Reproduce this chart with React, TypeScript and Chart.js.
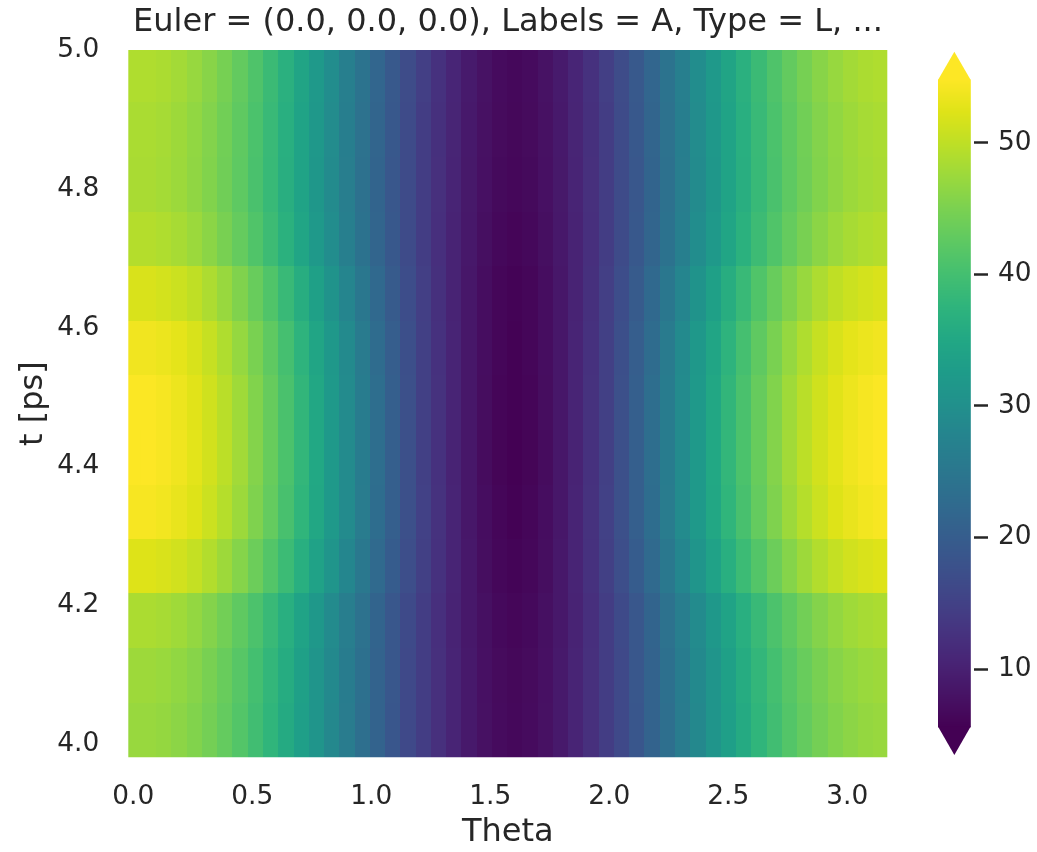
import React, { useEffect, useRef } from "react";
import { Chart, registerables } from "chart.js";

Chart.register(...registerables);

// ---------------- data ----------------
const titleText = "Euler = (0.0, 0.0, 0.0), Labels = A, Type = L, ...";
const xLabel = "Theta";
const yLabel = "t [ps]";

const thetaValues = [
  0, 0.0641, 0.1282, 0.1923, 0.2565, 0.3206, 0.3847, 0.4488, 0.5129, 0.577,
  0.6411, 0.7053, 0.7694, 0.8335, 0.8976, 0.9617, 1.0258, 1.0899, 1.1541, 1.2182,
  1.2823, 1.3464, 1.4105, 1.4746, 1.5387, 1.6029, 1.667, 1.7311, 1.7952, 1.8593,
  1.9234, 1.9875, 2.0517, 2.1158, 2.1799, 2.244, 2.3081, 2.3722, 2.4363, 2.5005,
  2.5646, 2.6287, 2.6928, 2.7569, 2.821, 2.8851, 2.9493, 3.0134, 3.0775, 3.1416,
];

const timeValues = [
  4.02, 4.099, 4.178, 4.256, 4.335, 4.413, 4.492, 4.571, 4.649, 4.728, 4.806, 4.885, 4.964,
];

const row0 = [47.2, 47.2, 46.9, 46.3, 45.5, 44.4, 43.0, 41.5, 39.7, 37.7, 35.6, 33.3, 31.0, 28.5, 26.0, 23.5, 21.1, 18.7, 16.4, 14.3, 12.3, 10.5, 9.0, 7.8, 7.0, 6.6, 7.0, 7.8, 9.0, 10.5, 12.3, 14.3, 16.4, 18.7, 21.1, 23.5, 26.0, 28.5, 31.0, 33.3, 35.6, 37.7, 39.7, 41.5, 43.0, 44.4, 45.5, 46.3, 46.9, 47.2];
const row1 = [47.6, 47.6, 47.3, 46.7, 45.9, 44.8, 43.4, 41.8, 40.0, 38.0, 35.9, 33.5, 31.2, 28.7, 26.2, 23.7, 21.2, 18.8, 16.4, 14.3, 12.3, 10.5, 9.0, 7.7, 6.9, 6.5, 6.9, 7.7, 9.0, 10.5, 12.3, 14.3, 16.4, 18.8, 21.2, 23.7, 26.2, 28.7, 31.2, 33.5, 35.9, 38.0, 40.0, 41.8, 43.4, 44.8, 45.9, 46.7, 47.3, 47.6];
const row2 = [48.6, 48.6, 48.3, 47.7, 46.8, 45.7, 44.3, 42.6, 40.8, 38.7, 36.5, 34.1, 31.7, 29.1, 26.5, 24.0, 21.4, 18.9, 16.5, 14.3, 12.2, 10.4, 8.8, 7.6, 6.7, 6.3, 6.7, 7.6, 8.8, 10.4, 12.2, 14.3, 16.5, 18.9, 21.4, 24.0, 26.5, 29.1, 31.7, 34.1, 36.5, 38.7, 40.8, 42.6, 44.3, 45.7, 46.8, 47.7, 48.3, 48.6];
const row3 = [52.3, 52.3, 51.9, 51.3, 50.4, 49.1, 47.6, 45.8, 43.7, 41.5, 39.1, 36.5, 33.8, 31.0, 28.2, 25.3, 22.5, 19.8, 17.2, 14.8, 12.5, 10.5, 8.8, 7.4, 6.4, 6.0, 6.4, 7.4, 8.8, 10.5, 12.5, 14.8, 17.2, 19.8, 22.5, 25.3, 28.2, 31.0, 33.8, 36.5, 39.1, 41.5, 43.7, 45.8, 47.6, 49.1, 50.4, 51.3, 51.9, 52.3];
const row4 = [54.3, 54.3, 53.9, 53.2, 52.3, 50.9, 49.3, 47.5, 45.3, 43.0, 40.4, 37.7, 34.9, 32.0, 29.0, 26.0, 23.1, 20.3, 17.5, 15.0, 12.6, 10.5, 8.7, 7.3, 6.3, 5.8, 6.3, 7.3, 8.7, 10.5, 12.6, 15.0, 17.5, 20.3, 23.1, 26.0, 29.0, 32.0, 34.9, 37.7, 40.4, 43.0, 45.3, 47.5, 49.3, 50.9, 52.3, 53.2, 53.9, 54.3];
const row5 = [54.7, 54.8, 54.4, 53.7, 52.7, 51.4, 49.8, 47.9, 45.7, 43.3, 40.7, 38.0, 35.1, 32.1, 29.1, 26.1, 23.2, 20.3, 17.5, 14.9, 12.5, 10.4, 8.6, 7.1, 6.1, 5.6, 6.1, 7.1, 8.6, 10.4, 12.5, 14.9, 17.5, 20.3, 23.2, 26.1, 29.1, 32.1, 35.1, 38.0, 40.7, 43.3, 45.7, 47.9, 49.8, 51.4, 52.7, 53.7, 54.4, 54.8];
const row6 = [54.6, 54.6, 54.2, 53.5, 52.5, 51.2, 49.6, 47.7, 45.5, 43.2, 40.6, 37.9, 35.0, 32.1, 29.1, 26.1, 23.2, 20.3, 17.5, 14.9, 12.6, 10.5, 8.6, 7.2, 6.2, 5.7, 6.2, 7.2, 8.6, 10.5, 12.6, 14.9, 17.5, 20.3, 23.2, 26.1, 29.1, 32.1, 35.0, 37.9, 40.6, 43.2, 45.5, 47.7, 49.6, 51.2, 52.5, 53.5, 54.2, 54.6];
const row7 = [53.8, 53.8, 53.4, 52.8, 51.8, 50.5, 48.9, 47.0, 44.9, 42.6, 40.1, 37.4, 34.6, 31.7, 28.8, 25.8, 22.9, 20.1, 17.4, 14.9, 12.5, 10.5, 8.7, 7.3, 6.3, 5.8, 6.3, 7.3, 8.7, 10.5, 12.5, 14.9, 17.4, 20.1, 22.9, 25.8, 28.8, 31.7, 34.6, 37.4, 40.1, 42.6, 44.9, 47.0, 48.9, 50.5, 51.8, 52.8, 53.4, 53.8];
const row8 = [51.9, 51.9, 51.5, 50.9, 50.0, 48.7, 47.2, 45.4, 43.4, 41.2, 38.7, 36.2, 33.5, 30.7, 27.9, 25.1, 22.3, 19.6, 17.0, 14.6, 12.4, 10.4, 8.7, 7.3, 6.3, 5.9, 6.3, 7.3, 8.7, 10.4, 12.4, 14.6, 17.0, 19.6, 22.3, 25.1, 27.9, 30.7, 33.5, 36.2, 38.7, 41.2, 43.4, 45.4, 47.2, 48.7, 50.0, 50.9, 51.5, 51.9];
const row9 = [49.2, 49.2, 48.9, 48.3, 47.4, 46.2, 44.8, 43.1, 41.2, 39.2, 36.9, 34.5, 32.0, 29.4, 26.8, 24.1, 21.5, 19.0, 16.6, 14.3, 12.2, 10.4, 8.8, 7.5, 6.6, 6.2, 6.6, 7.5, 8.8, 10.4, 12.2, 14.3, 16.6, 19.0, 21.5, 24.1, 26.8, 29.4, 32.0, 34.5, 36.9, 39.2, 41.2, 43.1, 44.8, 46.2, 47.4, 48.3, 48.9, 49.2];
const row10 = [48.4, 48.4, 48.1, 47.5, 46.6, 45.5, 44.1, 42.5, 40.6, 38.6, 36.4, 34.0, 31.6, 29.1, 26.5, 23.9, 21.4, 18.9, 16.6, 14.3, 12.3, 10.5, 8.9, 7.7, 6.8, 6.4, 6.8, 7.7, 8.9, 10.5, 12.3, 14.3, 16.6, 18.9, 21.4, 23.9, 26.5, 29.1, 31.6, 34.0, 36.4, 38.6, 40.6, 42.5, 44.1, 45.5, 46.6, 47.5, 48.1, 48.4];
const row11 = [48.5, 48.5, 48.2, 47.6, 46.7, 45.6, 44.2, 42.6, 40.7, 38.7, 36.5, 34.1, 31.7, 29.2, 26.6, 24.0, 21.5, 19.0, 16.7, 14.4, 12.4, 10.6, 9.0, 7.8, 6.9, 6.5, 6.9, 7.8, 9.0, 10.6, 12.4, 14.4, 16.7, 19.0, 21.5, 24.0, 26.6, 29.2, 31.7, 34.1, 36.5, 38.7, 40.7, 42.6, 44.2, 45.6, 46.7, 47.6, 48.2, 48.5];
const row12 = [48.9, 48.9, 48.6, 48.0, 47.1, 46.0, 44.6, 42.9, 41.1, 39.0, 36.8, 34.4, 32.0, 29.4, 26.8, 24.3, 21.7, 19.2, 16.8, 14.6, 12.5, 10.7, 9.1, 7.9, 7.0, 6.6, 7.0, 7.9, 9.1, 10.7, 12.5, 14.6, 16.8, 19.2, 21.7, 24.3, 26.8, 29.4, 32.0, 34.4, 36.8, 39.0, 41.1, 42.9, 44.6, 46.0, 47.1, 48.0, 48.6, 48.9];

const intensityRows = [row0, row1, row2, row3, row4, row5, row6, row7, row8, row9, row10, row11, row12];

const xTickValues = [0, 0.5, 1.0, 1.5, 2.0, 2.5, 3.0];
const yTickValues = [4.0, 4.2, 4.4, 4.6, 4.8, 5.0];
const colorbarTickValues = [10, 20, 30, 40, 50];
const colorMin = 5.6;
const colorMax = 54.8;

// ---------------- styling ----------------
const FONT = "'DejaVu Sans', sans-serif";
const TEXT = "#262626";

const VIRIDIS = [
  "#440154", "#471365", "#482475", "#463480", "#414487", "#3b528b", "#355f8d",
  "#2f6c8e", "#2a788e", "#25848e", "#21918c", "#1e9c89", "#22a884", "#2fb47c",
  "#44bf70", "#5ec962", "#7ad151", "#9bd93c", "#bddf26", "#dfe318", "#fde725",
];
const VIRIDIS_RGB = VIRIDIS.map((h) => [
  parseInt(h.slice(1, 3), 16),
  parseInt(h.slice(3, 5), 16),
  parseInt(h.slice(5, 7), 16),
]);

function viridis(t: number): string {
  const c = Math.max(0, Math.min(1, t));
  const p = c * (VIRIDIS_RGB.length - 1);
  const i = Math.min(VIRIDIS_RGB.length - 2, Math.floor(p));
  const f = p - i;
  const a = VIRIDIS_RGB[i];
  const b = VIRIDIS_RGB[i + 1];
  const r = Math.round(a[0] + (b[0] - a[0]) * f);
  const g = Math.round(a[1] + (b[1] - a[1]) * f);
  const bl = Math.round(a[2] + (b[2] - a[2]) * f);
  return `rgb(${r},${g},${bl})`;
}

function cellEdges(centers: number[]): number[] {
  const n = centers.length;
  const e: number[] = [centers[0] - (centers[1] - centers[0]) / 2];
  for (let i = 1; i < n; i++) e.push((centers[i - 1] + centers[i]) / 2);
  e.push(centers[n - 1] + (centers[n - 1] - centers[n - 2]) / 2);
  return e;
}

const heatmapPlugin = {
  id: "heatmapCells",
  beforeDatasetsDraw(chart: any) {
    const { ctx, chartArea, scales } = chart;
    const xs = scales.x;
    const ys = scales.y;
    const xe = cellEdges(thetaValues);
    const ye = cellEdges(timeValues);
    ctx.save();
    ctx.beginPath();
    ctx.rect(chartArea.left, chartArea.top, chartArea.right - chartArea.left, chartArea.bottom - chartArea.top);
    ctx.clip();
    for (let r = 0; r < intensityRows.length; r++) {
      const yTop = Math.round(ys.getPixelForValue(ye[r + 1]));
      const yBot = Math.round(ys.getPixelForValue(ye[r]));
      const row = intensityRows[r];
      for (let c = 0; c < row.length; c++) {
        const xl = Math.round(xs.getPixelForValue(xe[c]));
        const xr = Math.round(xs.getPixelForValue(xe[c + 1]));
        ctx.fillStyle = viridis((row[c] - colorMin) / (colorMax - colorMin));
        ctx.fillRect(xl, yTop, xr - xl, yBot - yTop);
      }
    }
    ctx.restore();
  },
};

const colorbarPlugin = {
  id: "colorbarBody",
  beforeDatasetsDraw(chart: any) {
    const { ctx, chartArea, scales } = chart;
    const ys = scales.y;
    const x0 = chartArea.left;
    const x1 = chartArea.right - 3.3;
    const yTop = ys.getPixelForValue(colorMax);
    const yBot = ys.getPixelForValue(colorMin);
    ctx.save();
    for (let py = Math.floor(yTop); py < Math.ceil(yBot); py++) {
      const v = ys.getValueForPixel(py + 0.5);
      ctx.fillStyle = viridis((v - colorMin) / (colorMax - colorMin));
      const a = Math.max(py, yTop);
      const b = Math.min(py + 1, yBot);
      ctx.fillRect(x0, a, x1 - x0, b - a + 0.5);
    }
    ctx.fillStyle = viridis(1);
    ctx.beginPath();
    ctx.moveTo(x0, yTop + 0.5);
    ctx.lineTo(x1, yTop + 0.5);
    ctx.lineTo((x0 + x1) / 2, chartArea.top);
    ctx.closePath();
    ctx.fill();
    ctx.fillStyle = viridis(0);
    ctx.beginPath();
    ctx.moveTo(x0, yBot - 0.5);
    ctx.lineTo(x1, yBot - 0.5);
    ctx.lineTo((x0 + x1) / 2, chartArea.bottom);
    ctx.closePath();
    ctx.fill();
    ctx.restore();
  },
};

export default function App() {
  const mainRef = useRef<HTMLCanvasElement>(null);
  const cbRef = useRef<HTMLCanvasElement>(null);

  useEffect(() => {
    const points: { x: number; y: number }[] = [];
    timeValues.forEach((t) => thetaValues.forEach((th) => points.push({ x: th, y: t })));

    const main = new Chart(mainRef.current as HTMLCanvasElement, {
      type: "scatter",
      data: { datasets: [{ data: points, pointRadius: 0, pointHoverRadius: 0 }] },
      options: {
        animation: false,
        responsive: false,
        maintainAspectRatio: false,
        events: [],
        layout: { padding: { left: 0, right: 21, top: 0, bottom: 0 } },
        plugins: {
          legend: { display: false },
          tooltip: { enabled: false },
          title: {
            display: true,
            text: titleText,
            color: TEXT,
            font: { family: FONT, size: 32, weight: "normal" },
            padding: { top: 3.3, bottom: 8.3 },
          },
        },
        scales: {
          x: {
            type: "linear",
            position: "bottom",
            min: -0.021,
            max: 3.168,
            grid: { display: false, drawTicks: false },
            border: { display: false },
            ticks: {
              color: TEXT,
              font: { family: FONT, size: 26.4 },
              padding: 24,
              maxRotation: 0,
              autoSkip: false,
              callback: (v: any) => Number(v).toFixed(1),
            },
            afterBuildTicks: (s: any) => {
              s.ticks = xTickValues.map((v) => ({ value: v }));
            },
            afterFit: (s: any) => {
              s.height = 94.7;
            },
            title: {
              display: true,
              text: xLabel,
              color: TEXT,
              font: { family: FONT, size: 32 },
              padding: { top: 0, bottom: 0 },
            },
          },
          y: {
            type: "linear",
            position: "left",
            min: 3.981,
            max: 5.0,
            grid: { display: false, drawTicks: false },
            border: { display: false },
            ticks: {
              color: TEXT,
              font: { family: FONT, size: 26.4 },
              padding: 29,
              autoSkip: false,
              callback: (v: any) => Number(v).toFixed(1),
            },
            afterBuildTicks: (s: any) => {
              s.ticks = yTickValues.map((v) => ({ value: v }));
            },
            afterFit: (s: any) => {
              s.width = 128.3;
            },
            title: {
              display: true,
              text: yLabel,
              color: TEXT,
              font: { family: FONT, size: 32 },
              padding: { top: 14.8, bottom: 0 },
            },
          },
          yPad: {
            type: "linear",
            position: "right",
            display: true,
            grid: { display: false, drawTicks: false },
            border: { display: false },
            ticks: { display: false },
            afterFit: (s: any) => {
              s.width = 128.7;
            },
          },
        },
      } as any,
      plugins: [heatmapPlugin],
    });

    const cb = new Chart(cbRef.current as HTMLCanvasElement, {
      type: "scatter",
      data: { datasets: [{ data: [], pointRadius: 0 }] },
      options: {
        animation: false,
        responsive: false,
        maintainAspectRatio: false,
        events: [],
        layout: { padding: { left: 18, right: 0, top: 51.7, bottom: 97 } },
        plugins: { legend: { display: false }, tooltip: { enabled: false } },
        scales: {
          x: { type: "linear", display: false, min: 0, max: 1 },
          y: {
            type: "linear",
            position: "right",
            min: 3.464,
            max: 56.916,
            grid: {
              display: true,
              drawOnChartArea: false,
              drawTicks: true,
              tickLength: 14,
              tickColor: TEXT,
              tickWidth: 2.5,
            },
            border: { display: false },
            ticks: {
              color: TEXT,
              font: { family: FONT, size: 26.4 },
              padding: 10,
              callback: (v: any) => String(v),
            },
            afterBuildTicks: (s: any) => {
              s.ticks = colorbarTickValues.map((v) => ({ value: v }));
            },
            afterFit: (s: any) => {
              s.width = 63;
            },
          },
        },
      } as any,
      plugins: [colorbarPlugin],
    });

    return () => {
      main.destroy();
      cb.destroy();
    };
  }, []);

  return (
    <div style={{ position: "absolute", left: 0, top: 0, width: 1037, height: 852, background: "#ffffff" }}>
      <canvas ref={mainRef} width={1037} height={852} style={{ position: "absolute", left: 0, top: 0 }} />
      <canvas ref={cbRef} width={117} height={852} style={{ position: "absolute", left: 920, top: 0 }} />
    </div>
  );
}
